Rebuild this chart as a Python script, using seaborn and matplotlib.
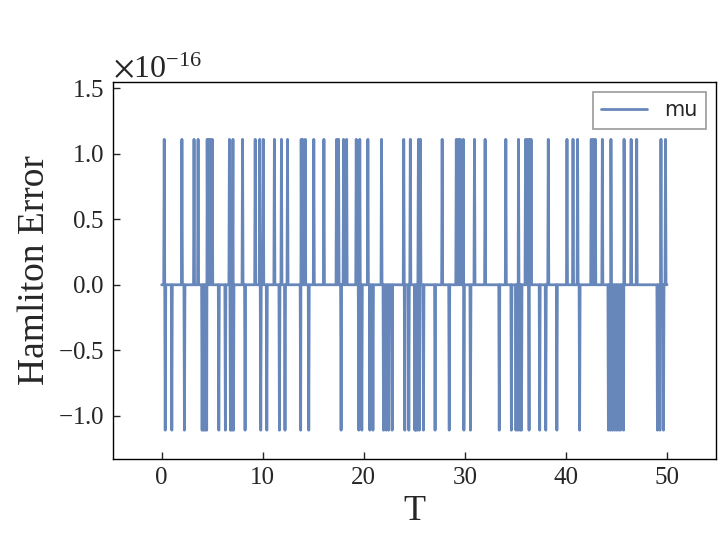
import numpy as np
import pandas as pd
import matplotlib
matplotlib.use("Agg")
import matplotlib.pyplot as plt
import seaborn as sns

# time grid of the run and spike times
t_start, t_stop, n_steps = 0.0, 50.0, 1001
eps = 1.11e-16

up_times = [0.23, 1.98, 3.19, 3.59, 4.5, 4.65, 4.8, 5.0, 6.72, 7.05, 8.0, 9.26,
            9.68, 10.05, 11.17, 11.86, 12.45, 13.8, 13.95, 14.2, 15.05, 16.04,
            17.3, 17.5, 18.0, 18.3, 19.27, 19.6, 20.4, 21.74, 23.94, 24.6, 25.4,
            25.6, 27.74, 29.15, 29.35, 29.55, 29.87, 30.93, 32.0, 34.06, 35.3,
            36.0, 36.2, 36.4, 36.53, 38.27, 40.09, 40.68, 41.17, 42.5, 42.7,
            42.9, 43.6, 44.47, 45.19, 45.75, 46.44, 47.0, 49.38, 49.87]
down_times = [0.33, 0.99, 2.27, 4.0, 4.15, 4.3, 4.45, 5.66, 6.32, 6.8, 6.95, 7.1,
              8.23, 9.78, 10.38, 11.66, 12.18, 13.74, 14.56, 17.76, 19.5, 19.8,
              20.6, 20.9, 21.97, 22.2, 22.46, 22.8, 24.04, 24.44, 25.03, 25.15,
              25.3, 25.5, 25.9, 27.07, 28.46, 29.92, 30.53, 33.4, 34.58, 35.05,
              35.25, 35.45, 35.6, 36.36, 37.38, 38.0, 39.1, 41.34, 44.2, 44.4,
              44.6, 44.8, 45.0, 45.2, 45.4, 45.68, 49.04, 49.3, 49.64]

T = np.linspace(t_start, t_stop, n_steps)
err = np.zeros_like(T)
for t in up_times:
    err[np.argmin(np.abs(T - t))] = eps
for t in down_times:
    err[np.argmin(np.abs(T - t))] = -eps

df = pd.DataFrame({"T": T, "err": err})

sns.set_style("white")
plt.rcParams["font.family"] = ["Liberation Serif", "DejaVu Serif"]
plt.rcParams["mathtext.fontset"] = "stix"

fig = plt.figure(figsize=(7.2, 5.4), dpi=100)
ax = fig.add_axes([0.1565, 0.15, 0.838, 0.6987])

sns.lineplot(data=df, x="T", y="err", ax=ax, color="#4c72b0", alpha=0.85,
             linewidth=2.0, label="mu")

ax.set_xlim(-4.85, 54.85)
ax.set_ylim(-1.33e-16, 1.55e-16)
ax.set_xticks([0, 10, 20, 30, 40, 50])
ax.set_yticks(np.array([-1.0, -0.5, 0.0, 0.5, 1.0, 1.5]) * 1e-16)
ax.ticklabel_format(axis="y", style="sci", scilimits=(0, 0), useMathText=True)
ax.yaxis.get_offset_text().set_fontsize(23)

ax.tick_params(direction="in", length=5, width=1, labelsize=18, pad=6,
               left=True, bottom=True, top=False, right=False)
for s in ax.spines.values():
    s.set_color("black")
    s.set_linewidth(1.0)

ax.set_xlabel("T", fontsize=26)
ax.set_ylabel("Hamliton Error", fontsize=27)

leg = ax.legend(loc="upper right", fancybox=False, edgecolor="gray",
                prop={"family": "DejaVu Sans", "size": 15},
                borderaxespad=0.5, handlelength=2.2)
leg.get_frame().set_linewidth(1.2)

fig.savefig("out.png", dpi=100)
